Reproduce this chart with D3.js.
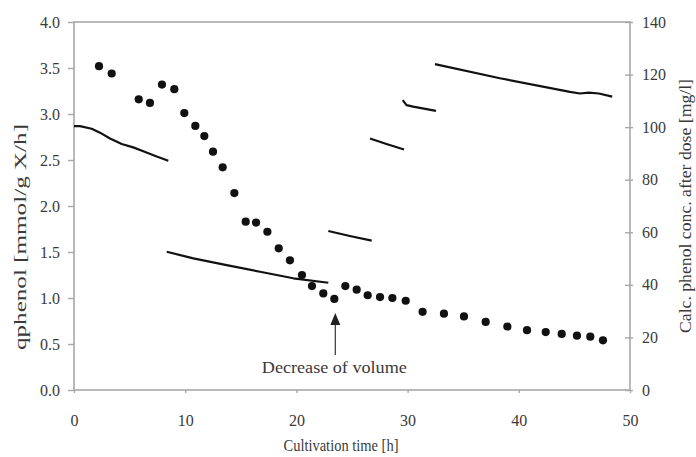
<!DOCTYPE html>
<html>
<head>
<meta charset="utf-8">
<script src="https://cdn.jsdelivr.net/npm/d3@7"></script>
<style>
  body { margin: 0; background: #fff; }
  text { font-family: "Liberation Serif", "Times New Roman", serif; fill: #3a3a3a; }
</style>
</head>
<body>
<div id="chart"></div>
<script>
// measured q-phenol points (left axis)
var qTime = [2.25, 3.39, 5.82, 6.83, 7.91, 9.02, 9.92, 10.91, 11.72, 12.5, 13.37, 14.42,
             15.44, 16.37, 17.39, 18.41, 19.42, 20.5, 21.4, 22.42, 23.41, 24.4, 25.42,
             26.41, 27.52, 28.63, 29.83, 31.35, 33.27, 35.07, 37.02, 38.97, 40.74,
             42.42, 43.86, 45.23, 46.43, 47.57];
var qPhenol = [3.52, 3.44, 3.16, 3.12, 3.32, 3.27, 3.01, 2.87, 2.76, 2.59, 2.42, 2.14,
               1.83, 1.82, 1.72, 1.54, 1.41, 1.25, 1.13, 1.05, 0.99, 1.13, 1.09,
               1.03, 1.01, 1.00, 0.97, 0.85, 0.83, 0.80, 0.74, 0.69, 0.65,
               0.63, 0.61, 0.59, 0.58, 0.54];

// calculated phenol conc. after each dose (right axis), one array per segment
var doseTime = [
  [0, 0.54, 1.59, 2.34, 3.24, 4.29, 5.33, 6.23, 7.44, 8.48],
  [8.34, 10.73, 13.73, 16.73, 19.72, 22.87],
  [22.87, 24.8, 26.77],
  [26.62, 28.1, 29.68],
  [29.56, 29.9, 30.5, 32.55],
  [32.46, 38.3, 44.6, 45.5, 46.3, 47.2, 48.4]
];
var doseConc = [
  [100.4, 100.4, 99.4, 97.9, 95.7, 93.6, 92.3, 90.8, 88.8, 87.2],
  [52.6, 50.1, 47.5, 45.0, 42.5, 40.8],
  [60.5, 58.6, 56.8],
  [95.7, 93.6, 91.5],
  [110.3, 108.4, 107.8, 106.2],
  [124, 118.6, 113.4, 112.8, 113.1, 112.8, 111.6]
];

var xTicks = [0, 10, 20, 30, 40, 50];
var leftTicks = [0, 0.5, 1, 1.5, 2, 2.5, 3, 3.5, 4];
var rightTicks = [0, 20, 40, 60, 80, 100, 120, 140];

var width = 696,
    height = 457,
    margin = {top: 22, right: 66, bottom: 67, left: 74};

var svg = d3.select("#chart").append("svg")
    .attr("width", width)
    .attr("height", height);

var x = d3.scaleLinear().domain([0, 50]).range([margin.left, width - margin.right]);
var yL = d3.scaleLinear().domain([0, 4]).range([height - margin.bottom, margin.top]);
var yR = d3.scaleLinear().domain([0, 140]).range([height - margin.bottom, margin.top]);

var axisColor = "#a8a8a8";

// frame
svg.append("rect")
    .attr("x", x(0)).attr("y", yL(4))
    .attr("width", x(50) - x(0)).attr("height", yL(0) - yL(4))
    .attr("fill", "none").attr("stroke", axisColor).attr("stroke-width", 1.6);

var gx = svg.append("g")
    .attr("transform", "translate(0," + yL(0) + ")")
    .call(d3.axisBottom(x).tickValues(xTicks).tickSize(3).tickPadding(22).tickFormat(d3.format("d")));

var gl = svg.append("g")
    .attr("transform", "translate(" + x(0) + ",0)")
    .call(d3.axisLeft(yL).tickValues(leftTicks).tickSize(6).tickPadding(8).tickFormat(d3.format(".1f")));

var gr = svg.append("g")
    .attr("transform", "translate(" + x(50) + ",0)")
    .call(d3.axisRight(yR).tickValues(rightTicks).tickSize(3).tickPadding(9).tickFormat(d3.format("d")));

gr.selectAll(".tick line").attr("x1", -5);

[gx, gl, gr].forEach(function(g) {
  g.select(".domain").remove();
  g.selectAll(".tick line").attr("stroke", axisColor).attr("stroke-width", 1.4);
  g.selectAll(".tick text").attr("font-size", 16).attr("fill", "#444")
      .style("font-family", "'Liberation Serif', serif");
});

// dose lines
var line = d3.line()
    .x(function(d) { return x(d[0]); })
    .y(function(d) { return yR(d[1]); });

doseTime.forEach(function(ts, i) {
  var pts = ts.map(function(t, j) { return [t, doseConc[i][j]]; });
  svg.append("path")
      .datum(pts)
      .attr("d", line)
      .attr("fill", "none")
      .attr("stroke", "#111")
      .attr("stroke-width", 2.2)
      .attr("stroke-linejoin", "round");
});

// q points
svg.append("g").selectAll("circle")
    .data(qTime)
  .enter().append("circle")
    .attr("cx", function(d) { return x(d); })
    .attr("cy", function(d, i) { return yL(qPhenol[i]); })
    .attr("r", 4.1)
    .attr("fill", "#111");

// annotation arrow
var ax = x(23.5);
svg.append("line")
    .attr("x1", ax).attr("x2", ax)
    .attr("y1", 322).attr("y2", 355)
    .attr("stroke", "#444").attr("stroke-width", 1.3);
svg.append("path")
    .attr("d", "M" + ax + ",313L" + (ax - 5) + ",325L" + (ax + 5) + ",325Z")
    .attr("fill", "#222");
svg.append("text")
    .attr("x", ax - 1).attr("y", 373)
    .attr("text-anchor", "middle")
    .attr("font-size", 17)
    .attr("fill", "#444")
    .attr("textLength", 145)
    .attr("lengthAdjust", "spacingAndGlyphs")
    .text("Decrease of volume");

// axis titles
svg.append("text")
    .attr("x", 341).attr("y", 451)
    .attr("text-anchor", "middle")
    .attr("font-size", 16.5)
    .attr("fill", "#444")
    .attr("textLength", 115)
    .attr("lengthAdjust", "spacingAndGlyphs")
    .text("Cultivation time [h]");

svg.append("text")
    .attr("transform", "translate(26,237) rotate(-90)")
    .attr("text-anchor", "middle")
    .attr("font-size", 17)
    .attr("fill", "#555")
    .attr("textLength", 226)
    .attr("lengthAdjust", "spacingAndGlyphs")
    .text("qphenol [mmol/g X/h]");

svg.append("text")
    .attr("transform", "translate(691,206) rotate(-90)")
    .attr("text-anchor", "middle")
    .attr("font-size", 16.5)
    .attr("fill", "#555")
    .attr("textLength", 254)
    .attr("lengthAdjust", "spacingAndGlyphs")
    .text("Calc. phenol conc. after dose [mg/l]");
</script>
</body>
</html>
